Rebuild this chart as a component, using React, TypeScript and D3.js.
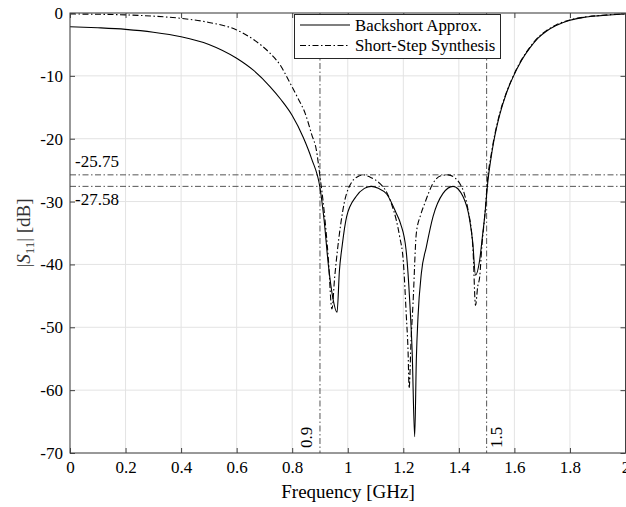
import { useEffect, useRef } from "react";
import * as d3 from "d3";

// Backshort Approx. (solid)
const freqBackshort = [
  0, 0.1, 0.2, 0.3, 0.4, 0.5, 0.6, 0.66, 0.72, 0.76, 0.8, 0.84, 0.87, 0.9, 0.915, 0.93, 0.945, 0.9615,
  0.97, 0.98, 0.996, 1.03, 1.06, 1.085, 1.11, 1.14, 1.175, 1.19, 1.21, 1.223, 1.232, 1.241, 1.247, 1.253,
  1.265, 1.283, 1.307, 1.343, 1.379, 1.415, 1.439, 1.45, 1.46, 1.475, 1.485, 1.493, 1.505, 1.515, 1.525,
  1.535, 1.547, 1.57, 1.595, 1.625, 1.655, 1.685, 1.715, 1.75, 1.8, 1.85, 1.9, 2.0,
];
const s11Backshort = [
  -2.18, -2.35, -2.6, -3.05, -3.77, -5.0, -7.2, -9.1, -11.7, -13.8, -16.3, -19.8, -23.2, -27.8, -33, -40, -45, -47.6,
  -41, -37, -32.4, -29.2, -27.9, -27.58, -27.9, -28.8, -31.9, -33.5, -37.7, -45.7, -54, -67.4, -55, -48.3,
  -41.4, -37.2, -32.4, -28.7, -27.58, -29.2, -32.9, -36.5, -41.7, -39.3, -35.5, -32.4, -26.6, -23.3, -20.6,
  -18.4, -16.2, -12.9, -10.2, -7.6, -5.6, -4.0, -2.9, -2.0, -1.15, -0.7, -0.45, -0.15,
];

// Short-Step Synthesis (dash-dot)
const freqSynthesis = [
  0, 0.1, 0.2, 0.3, 0.4, 0.5, 0.6, 0.66, 0.72, 0.76, 0.787, 0.82, 0.847, 0.87, 0.887, 0.9, 0.915, 0.93, 0.943,
  0.953, 0.963, 0.975, 0.987, 1.016, 1.04, 1.058, 1.08, 1.115, 1.14, 1.157, 1.175, 1.187, 1.2, 1.211, 1.217,
  1.221, 1.228, 1.235, 1.247, 1.262, 1.277, 1.307, 1.335, 1.361, 1.385, 1.403, 1.42, 1.433, 1.451, 1.46,
  1.468, 1.475, 1.483, 1.493, 1.505, 1.515, 1.525, 1.535, 1.547, 1.57, 1.595, 1.625, 1.655, 1.685, 1.715,
  1.75, 1.8, 1.85, 1.9, 2.0,
];
const s11Synthesis = [
  -0.16, -0.2, -0.3, -0.5, -0.85, -1.5, -2.7, -4.2, -6.4, -8.5, -10.7, -13.5, -16, -19.3, -21.8, -26.0, -31.5, -39, -47.1,
  -42, -37.7, -33.5, -30.3, -26.8, -25.95, -25.75, -26.1, -27.1, -28.5, -30.3, -33, -35.6, -39.5, -48.3, -53.6,
  -59.7, -52, -46.2, -35, -32.2, -30.3, -27.1, -25.9, -25.75, -26.2, -27.1, -28.8, -31.3, -37.7, -46.5,
  -43.5, -42, -37, -32.4, -25.8, -22.9, -20.3, -18.2, -16.0, -12.8, -10.1, -7.5, -5.5, -3.9, -2.8,
  -1.9, -1.1, -0.66, -0.42, -0.12,
];

const xTicks = [0, 0.2, 0.4, 0.6, 0.8, 1, 1.2, 1.4, 1.6, 1.8, 2];
const yTicks = [0, -10, -20, -30, -40, -50, -60, -70];
const levelLines = [-25.75, -27.58];
const bandEdges = [0.9, 1.5];
const legendLabels = ["Backshort Approx.", "Short-Step Synthesis"];

const FONT = "'Liberation Serif', 'DejaVu Serif', 'Times New Roman', serif";
const DASH_DOT = "6,2.5,1.5,2.5";

export default function App() {
  const ref = useRef<SVGSVGElement | null>(null);

  useEffect(() => {
    if (!ref.current) return;
    const svg = d3.select(ref.current);
    svg.selectAll("*").remove();

    const left = 70;
    const right = 625.5;
    const top = 13;
    const bottom = 453;

    const x = d3.scaleLinear().domain([0, 2]).range([left, right]);
    const y = d3.scaleLinear().domain([-70, 0]).range([bottom, top]);

    svg.append("rect").attr("width", 626).attr("height", 507).attr("fill", "#fff");

    // grid
    const grid = svg.append("g").attr("stroke", "#e3e3e3").attr("stroke-width", 1);
    xTicks.forEach((t) => {
      grid.append("line").attr("x1", x(t)).attr("x2", x(t)).attr("y1", top).attr("y2", bottom);
    });
    yTicks.forEach((t) => {
      grid.append("line").attr("x1", left).attr("x2", right).attr("y1", y(t)).attr("y2", y(t));
    });

    svg
      .append("defs")
      .append("clipPath")
      .attr("id", "plot-clip")
      .append("rect")
      .attr("x", left)
      .attr("y", top)
      .attr("width", right - left)
      .attr("height", bottom - top);

    // annotation lines
    const ann = svg.append("g").attr("stroke", "#555").attr("stroke-width", 1).attr("stroke-dasharray", DASH_DOT);
    levelLines.forEach((v) => {
      ann.append("line").attr("x1", left).attr("x2", right).attr("y1", y(v)).attr("y2", y(v));
    });
    bandEdges.forEach((f) => {
      ann.append("line").attr("x1", x(f)).attr("x2", x(f)).attr("y1", top).attr("y2", bottom);
    });

    // curves
    const line = d3
      .line<[number, number]>()
      .x((d) => x(d[0]))
      .y((d) => y(d[1]))
      .curve(d3.curveMonotoneX);

    const plot = svg.append("g").attr("clip-path", "url(#plot-clip)");
    plot
      .append("path")
      .datum(freqBackshort.map((f, i) => [f, s11Backshort[i]] as [number, number]))
      .attr("fill", "none")
      .attr("stroke", "#000")
      .attr("stroke-width", 1.1)
      .attr("d", line);
    plot
      .append("path")
      .datum(freqSynthesis.map((f, i) => [f, s11Synthesis[i]] as [number, number]))
      .attr("fill", "none")
      .attr("stroke", "#000")
      .attr("stroke-width", 1.1)
      .attr("stroke-dasharray", DASH_DOT)
      .attr("d", line);

    // annotation labels
    const annText = svg.append("g").attr("font-family", FONT).attr("font-size", 17).attr("fill", "#000");
    annText.append("text").attr("x", 75).attr("y", y(levelLines[0]) - 8).text(String(levelLines[0]));
    annText.append("text").attr("x", 75).attr("y", y(levelLines[1]) + 19).text(String(levelLines[1]));
    annText
      .append("text")
      .attr("transform", `translate(${x(bandEdges[0]) - 8},448) rotate(-90)`)
      .text(String(bandEdges[0]));
    annText
      .append("text")
      .attr("transform", `translate(${x(bandEdges[1]) + 15},448) rotate(-90)`)
      .text(String(bandEdges[1]));

    // axes
    const axisColor = "#404040";
    const styleAxis = (g: d3.Selection<SVGGElement, unknown, null, undefined>) => {
      g.select(".domain").remove();
      g.selectAll(".tick line").attr("stroke", axisColor);
      g.selectAll(".tick text").attr("fill", "#000").attr("font-family", FONT).attr("font-size", 17);
    };

    svg
      .append("g")
      .attr("transform", `translate(0,${bottom})`)
      .call(
        d3
          .axisBottom(x)
          .tickValues(xTicks)
          .tickSize(-5)
          .tickPadding(8)
          .tickFormat((d) => String(+(+d).toFixed(1)))
      )
      .call(styleAxis);
    svg
      .append("g")
      .attr("transform", `translate(0,${top})`)
      .call(d3.axisTop(x).tickValues(xTicks).tickSize(-5).tickFormat(() => ""))
      .call(styleAxis);
    svg
      .append("g")
      .attr("transform", `translate(${left},0)`)
      .call(d3.axisLeft(y).tickValues(yTicks).tickSize(-5).tickPadding(7).tickFormat((d) => String(d)))
      .call(styleAxis);
    svg
      .append("g")
      .attr("transform", `translate(${right},0)`)
      .call(d3.axisRight(y).tickValues(yTicks).tickSize(-5).tickFormat(() => ""))
      .call(styleAxis);

    svg
      .append("rect")
      .attr("x", left)
      .attr("y", top)
      .attr("width", right - left)
      .attr("height", bottom - top)
      .attr("fill", "none")
      .attr("stroke", axisColor)
      .attr("stroke-width", 1);

    // axis labels
    svg
      .append("text")
      .attr("x", 348)
      .attr("y", 498)
      .attr("text-anchor", "middle")
      .attr("font-family", FONT)
      .attr("font-size", 19)
      .attr("fill", "#000")
      .text("Frequency [GHz]");

    const yl = svg
      .append("text")
      .attr("transform", `translate(30,${(top + bottom) / 2}) rotate(-90)`)
      .attr("text-anchor", "middle")
      .attr("font-family", FONT)
      .attr("font-size", 19)
      .attr("fill", "#333");
    yl.append("tspan").text("|");
    yl.append("tspan").attr("font-style", "italic").text("S");
    yl.append("tspan").attr("font-size", 13).attr("dy", 4).text("11");
    yl.append("tspan").attr("dy", -4).text("| [dB]");

    // legend
    const lg = svg.append("g");
    lg.append("rect")
      .attr("x", 294.5)
      .attr("y", 14.5)
      .attr("width", 206)
      .attr("height", 44)
      .attr("fill", "#fff")
      .attr("stroke", "#262626")
      .attr("stroke-width", 1);
    legendLabels.forEach((label, i) => {
      const cy = 25 + i * 20.5;
      lg.append("line")
        .attr("x1", 300)
        .attr("x2", 350)
        .attr("y1", cy)
        .attr("y2", cy)
        .attr("stroke", "#000")
        .attr("stroke-width", 1.1)
        .attr("stroke-dasharray", i === 1 ? DASH_DOT : null);
      lg.append("text")
        .attr("x", 355)
        .attr("y", cy + 5.5)
        .attr("font-family", FONT)
        .attr("font-size", 16.8)
        .attr("fill", "#000")
        .text(label);
    });
  }, []);

  return (
    <svg
      ref={ref}
      width={626}
      height={507}
      style={{ position: "absolute", left: 0, top: 0, display: "block" }}
    />
  );
}
